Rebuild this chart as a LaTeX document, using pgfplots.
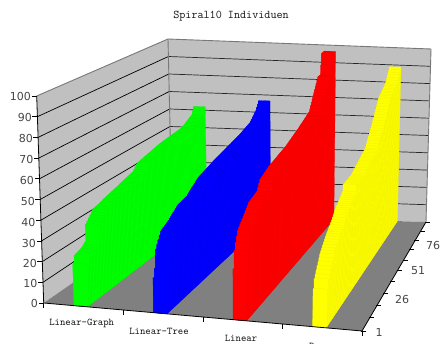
\documentclass[border=0pt]{standalone}
\usepackage{fontspec}
\setsansfont{DejaVu Sans}
\usepackage{pgfplots}
\usepackage{pgfplotstable}
\pgfplotsset{compat=1.18}
\definecolor{wall}{RGB}{192,192,192}
\definecolor{floorc}{RGB}{128,128,128}
\definecolor{edgec}{RGB}{120,120,120}
\definecolor{txt}{RGB}{70,70,70}
\definecolor{txm}{RGB}{20,20,20}
\definecolor{cg}{RGB}{0,255,0}
\definecolor{cb}{RGB}{0,0,255}
\definecolor{cr}{RGB}{255,0,0}
\definecolor{cy}{RGB}{255,255,0}
\pgfplotstableread{
r g b d y
1 20 16.5 24 17.7
2 23.7 20.5 32.4 22
3 24 29.2 35.5 23.5
4 24.2 31 38 25
5 24.5 32.8 40.4 26.4
6 24.8 34.4 41.2 27.8
7 25.2 36 42.1 29.2
8 25.8 36.4 42.9 30.6
9 26.6 36.8 43.8 31.5
10 35 37.1 44.6 32.3
11 36 37.4 45.5 33.2
12 37 37.8 46.3 34
13 38 38.2 47.2 34.9
14 39 38.8 48 35.7
15 40 39.3 48.9 36.3
16 40.2 39.9 49.1 36.9
17 40.4 40.4 49.4 37.4
18 40.6 40.9 49.6 38
19 40.8 41.4 49.8 38.6
20 41 41.9 50 39.4
21 41.3 42.4 50.3 40.1
22 41.6 42.5 50.5 40.9
23 41.8 42.6 50.7 41.7
24 42 42.8 52.2 42.4
25 42.2 42.9 53.8 43.2
26 42.4 43 55.3 43.7
27 42.6 43.2 55.6 44.3
28 42.8 43.3 55.9 44.8
29 43 43.8 56.2 45.3
30 43.2 44.3 56.5 45.9
31 43.4 44.8 56.8 46.4
32 43.6 45.3 57.1 46.9
33 43.8 45.8 57.4 47.5
34 44 46.3 57.7 48
35 44.3 46.8 58 51.2
36 44.5 47.3 58.2 51.2
37 44.7 47.8 58.3 51.2
38 44.9 48.3 58.5 51.3
39 45.1 48.5 58.6 51.3
40 45.3 48.7 58.8 51.3
41 45.5 48.9 58.9 51.3
42 45.7 49.1 59.1 51.4
43 45.9 49.3 59.2 51.4
44 46.1 49.5 59.4 51.4
45 46.3 49.7 59.6 51.4
46 47 49.9 59.7 51.7
47 48 50.1 59.9 52
48 49 50.3 60 52.3
49 49.4 50.5 60.2 52.6
50 49.6 50.7 60.3 52.9
51 49.8 50.9 60.5 53.2
52 50 51.1 60.6 53.5
53 50.1 51.3 60.8 53.8
54 50.3 51.4 61.1 54.1
55 50.5 51.6 61.3 54.4
56 50.6 51.7 61.6 54.7
57 50.8 51.9 61.8 55
58 51 52 62.1 55.3
59 51.1 52.2 62.3 55.6
60 51.3 52.3 62.6 55.9
61 51.4 52.5 62.9 56.2
62 51.6 52.6 63.1 56.5
63 51.8 52.8 63.4 56.8
64 51.9 52.9 63.6 57.1
65 52.1 53.1 63.9 58
66 52.2 53.3 64.1 59
67 52.4 53.4 64.4 60
68 52.5 53.6 64.7 60.9
69 52.6 53.7 65 61.9
70 52.7 53.9 65.3 62.9
71 52.8 54 65.6 63.9
72 52.9 54.2 65.9 64.8
73 52.9 54.3 66.2 65.8
74 53 54.5 66.5 66.8
75 53.1 54.6 66.8 67.9
76 53.2 54.8 67.1 69
77 53.2 54.9 67.4 70.2
78 53.3 55.1 67.8 71.3
79 53.4 55.3 68.1 72.5
80 53.5 55.5 68.4 73.6
81 53.5 55.7 68.7 74.7
82 53.6 56 70 75.9
83 53.7 56.2 71.5 77
84 53.8 56.4 73 77.4
85 53.8 56.6 74.5 77.9
86 53.9 56.8 76 78.3
87 54 57 77.3 78.8
88 54 57.3 78.7 79.2
89 54.4 57.5 80 79.6
90 54.8 57.7 81.5 80.1
91 55.2 58.4 83 80.5
92 55.6 59 84.5 81
93 56 59.7 84.5 81.4
94 56.4 60.3 84.5 81.9
95 56.8 61 84.5 83
96 57.2 61.6 90 84.2
97 57.6 62.3 96.3 85.4
98 58 63.8 96.4 86.5
99 60 65.2 96.4 87.7
100 62 66.7 96.5 88.9
}\tbl
% proj{u}{t}{z}{xmacro}{ymacro}: category u (0..4), depth t (0..1), value z -> picture position
\newcommand\proj[5]{%
  \pgfmathsetmacro\pbx{(43.7+79.575*#1)*(1-#2)+(172+63.5*#1)*#2}%
  \pgfmathsetmacro\pby{(303+7*#1)*(1-#2)+(214+2*#1)*#2}%
  \pgfmathsetmacro\ph{(207+1.25*#1)*(1-#2)+(175-0.5*#1)*#2}%
  \pgfmathsetmacro\pl{(-7+2.75*#1)*(1-#2)+(-4+2.25*#1)*#2}%
  \pgfmathsetmacro#4{\pbx+\pl*(#3/100)}%
  \pgfmathsetmacro#5{\pby-\ph*(#3/100)}%
}
\newcommand\seg[7]{%
  \proj{#1}{#2}{#3}\sxa\sya\proj{#4}{#5}{#6}\sxb\syb
  \edef\tmp{\noexpand\addplot[#7,forget plot] coordinates {(\sxa,\sya)(\sxb,\syb)};}\tmp
}
\newcommand\tickm[7]{% from projected point, offset dx dy
  \proj{#1}{#2}{#3}\sxa\sya
  \pgfmathsetmacro\sxb{\sxa+#4}\pgfmathsetmacro\syb{\sya+#5}%
  \pgfmathsetmacro\sxc{\sxa+#6}\pgfmathsetmacro\syc{\sya+#7}%
  \edef\tmp{\noexpand\addplot[black,line width=.7pt,forget plot] coordinates {(\sxc,\syc)(\sxb,\syb)};}\tmp
}
\newcommand\series[3]{%
  \pgfmathsetmacro\ua{#2}\pgfmathsetmacro\ub{#2+0.17}%
  \pgfplotsforeachungrouped \rr in {99,98,...,0}{%
    \pgfplotstablegetelem{\rr}{#1}\of\tbl
    \let\zz\pgfplotsretval
    \pgfmathsetmacro\va{\rr/100}\pgfmathsetmacro\vb{(\rr+1)/100}%
    \pgfmathsetmacro\ta{1.25*\va/(1+0.25*\va)}%
    \pgfmathsetmacro\tb{1.25*\vb/(1+0.25*\vb)}%
    \proj{\ua}{\ta}{0}\xa\ya
    \proj{\ub}{\ta}{0}\xb\yb
    \proj{\ub}{\tb}{0}\xc\yc
    \proj{\ub}{\tb}{\zz}\xd\yd
    \proj{\ua}{\tb}{\zz}\xe\ye
    \proj{\ua}{\ta}{\zz}\xf\yf
    \proj{\ub}{\ta}{\zz}\xg\yg
    \edef\tmp{\noexpand\addplot[fill=#3,draw=#3!93!black,line width=.2pt,forget plot] coordinates {(\xa,\ya)(\xb,\yb)(\xc,\yc)(\xd,\yd)(\xe,\ye)(\xf,\yf)} --cycle;}\tmp
    \edef\tmp{\noexpand\addplot[fill=#3,draw=none,forget plot] coordinates {(\xa,\ya)(\xb,\yb)(\xg,\yg)(\xf,\yf)} --cycle;}\tmp
  }%
}
\begin{document}
\begin{tikzpicture}[x=1pt,y=1pt]
\useasboundingbox (0,0) rectangle (443,344);
\begin{axis}[
  at={(0,0)},anchor=south west,
  scale only axis,width=443pt,height=344pt,
  xmin=0,xmax=443,ymin=0,ymax=344,y dir=reverse,
  hide axis,clip=false]
% walls and floor
\proj{0}{0}{0}\xa\ya \proj{0}{1}{0}\xb\yb \proj{0}{1}{100}\xc\yc \proj{0}{0}{100}\xd\yd
\proj{4}{1}{0}\xe\ye \proj{4}{1}{100}\xf\yf \proj{4}{0}{0}\xg\yg
\edef\tmp{\noexpand\addplot[fill=wall,draw=none,forget plot] coordinates {(\xa,\ya)(\xb,\yb)(\xc,\yc)(\xd,\yd)} --cycle;}\tmp
\edef\tmp{\noexpand\addplot[fill=wall,draw=none,forget plot] coordinates {(\xb,\yb)(\xe,\ye)(\xf,\yf)(\xc,\yc)} --cycle;}\tmp
\edef\tmp{\noexpand\addplot[fill=floorc,draw=none,forget plot] coordinates {(\xa,\ya)(\xg,\yg)(\xe,\ye)(\xb,\yb)} --cycle;}\tmp
\pgfplotsforeachungrouped \zv in {10,20,...,90}{%
  \seg{0}{0}{\zv}{0}{1}{\zv}{black,line width=.7pt}
  \seg{0}{1}{\zv}{4}{1}{\zv}{black!85,line width=.7pt}
}
\seg{0}{0}{100}{0}{1}{100}{edgec,line width=.9pt}
\seg{0}{1}{100}{4}{1}{100}{edgec,line width=.9pt}
\seg{0}{1}{0}{0}{1}{100}{edgec,line width=.9pt}
\seg{4}{1}{0}{4}{1}{100}{edgec,line width=.9pt}
\seg{0}{0}{0}{0}{0}{100}{black,line width=.8pt}
% bars
\series{g}{0.38}{cg}
\series{b}{1.38}{cb}
\series{d}{2.38}{cr}
\series{y}{3.38}{cy}
% axes
\seg{0}{0}{0}{4}{0}{0}{black,line width=.8pt}
\seg{4}{0}{0}{4}{1}{0}{black,line width=.8pt}
\pgfplotsforeachungrouped \zv in {0,10,...,100}{\tickm{0}{0}{\zv}{-5}{0}{0}{0}}
\pgfplotsforeachungrouped \uu in {0,1,2,3,4}{\tickm{\uu}{0}{0}{0}{4.5}{0}{0}}
\pgfplotsforeachungrouped \vv in {0,0.1,0.2,0.3,0.4,0.5,0.6,0.7,0.8,0.9,1}{%
  \pgfmathsetmacro\tv{1.25*\vv/(1+0.25*\vv)}%
  \tickm{4}{\tv}{0}{4}{0}{-1}{0}
}
% labels
\foreach \lab/\yy/\xx in {100/96/31,90/117/32,80/138/33,70/159.5/33.5,60/180/34,50/201/35,40/222/35.5,30/243/36,20/263/37,10/283/37.5,0/303/38}{
  \edef\tmp{\noexpand\node[anchor=east,inner sep=0pt,text=txt,font=\noexpand\sffamily\noexpand\fontsize{11}{11}\noexpand\selectfont] at (axis cs:\xx,\yy) {\lab};}\tmp
}
\node[inner sep=0pt,text=txt,font=\sffamily\fontsize{11}{11}\selectfont] at (axis cs:379,332) {1};
\node[inner sep=0pt,text=txt,font=\sffamily\fontsize{11}{11}\selectfont] at (axis cs:402,299) {26};
\node[inner sep=0pt,text=txt,font=\sffamily\fontsize{11}{11}\selectfont] at (axis cs:418,271) {51};
\node[inner sep=0pt,text=txt,font=\sffamily\fontsize{11}{11}\selectfont] at (axis cs:433,245) {76};
\node[inner sep=0pt,text=txm,font=\ttfamily\fontsize{10.3}{10.3}\selectfont] at (axis cs:81.7,323.7) {Linear-Graph};
\node[inner sep=0pt,text=txm,font=\ttfamily\fontsize{10.3}{10.3}\selectfont] at (axis cs:159,331) {Linear-Tree};
\node[inner sep=0pt,text=txm,font=\ttfamily\fontsize{10.3}{10.3}\selectfont] at (axis cs:241,338) {Linear};
\node[inner sep=0pt,text=txm,font=\ttfamily\fontsize{10.3}{10.3}\selectfont] at (axis cs:320,346) {Baum};
\node[inner sep=0pt,text=txm,font=\ttfamily\fontsize{11.8}{11.8}\selectfont] at (axis cs:231,16.5) {Spiral10 Individuen};
\end{axis}
\end{tikzpicture}
\end{document}
